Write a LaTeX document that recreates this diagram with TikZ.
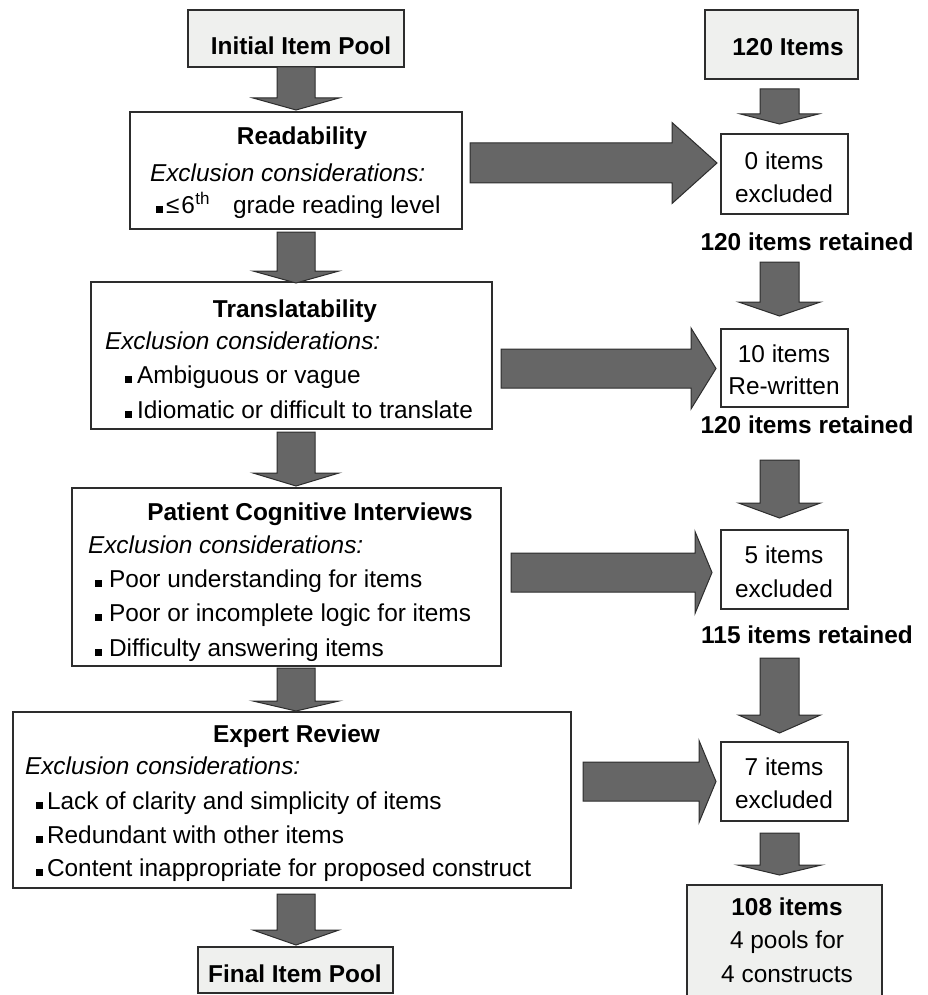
\documentclass[tikz,border=0pt]{standalone}
\usepackage{fontspec}
\setmainfont{Liberation Sans}
\usetikzlibrary{calc}
\definecolor{boxgray}{RGB}{239,240,238}
\definecolor{arrfill}{RGB}{102,102,102}
\definecolor{edge}{RGB}{45,45,45}
% vertical block arrow: start, tip, head length, shaft half width, head half width
\newcommand{\vblock}[5]{%
  \draw[blockarr] let \p1=#1, \p2=#2 in
    (\x2-#4pt,\y1) -- (\x2+#4pt,\y1) -- (\x2+#4pt,\y2+#3pt) -- (\x2+#5pt,\y2+#3pt)
    -- (\x2,\y2) -- (\x2-#5pt,\y2+#3pt) -- (\x2-#4pt,\y2+#3pt) -- cycle;}
% horizontal block arrow: start, tip, head length, shaft half width, head half width
\newcommand{\hblock}[5]{%
  \draw[blockarr] let \p1=#1, \p2=#2 in
    (\x1,\y2+#4pt) -- (\x2-#3pt,\y2+#4pt) -- (\x2-#3pt,\y2+#5pt) -- (\x2,\y2)
    -- (\x2-#3pt,\y2-#5pt) -- (\x2-#3pt,\y2-#4pt) -- (\x1,\y2-#4pt) -- cycle;}
\begin{document}
\begin{tikzpicture}[x=1pt,y=-1pt,
  box/.style={draw=edge, line width=1.1pt, fill=white, inner sep=0pt, outer sep=0pt, anchor=north west},
  graybox/.style={box, fill=boxgray},
  txt/.style={inner sep=0pt, outer sep=0pt, font=\fontsize{24.4pt}{29pt}\selectfont},
  ttl/.style={inner sep=0pt, outer sep=0pt, font=\fontsize{24.4pt}{29pt}\selectfont\bfseries},
  bul/.style={fill=black, draw=none, minimum size=6.8pt, inner sep=0pt, outer sep=0pt, anchor=south west},
  blockarr/.style={fill=arrfill, draw=edge, line width=1pt, line join=miter}]
\useasboundingbox (0,0) rectangle (927,995);
\clip (0,0) rectangle (927,995);

% ---------- boxes ----------
\node[graybox, minimum width=216pt, minimum height=57pt]  (init)  at (188,10)  {};
\node[box,     minimum width=332pt, minimum height=117pt] (read)  at (130,112) {};
\node[box,     minimum width=401pt, minimum height=147pt] (trans) at (91,282)  {};
\node[box,     minimum width=429pt, minimum height=178pt] (pat)   at (72,488)  {};
\node[box,     minimum width=558pt, minimum height=176pt] (expr)  at (13,712)  {};
\node[graybox, minimum width=195pt, minimum height=46pt]  (final) at (198,947) {};

\node[graybox, minimum width=153pt, minimum height=69pt]  (itm)   at (705,10)  {};
\node[box,     minimum width=127pt, minimum height=80pt]  (zero)  at (721,134) {};
\node[box,     minimum width=127pt, minimum height=78pt]  (ten)   at (721,329) {};
\node[box,     minimum width=127pt, minimum height=79pt]  (five)  at (721,530) {};
\node[box,     minimum width=127pt, minimum height=79pt]  (seven) at (721,742) {};
\node[graybox, minimum width=195pt, minimum height=125pt] (pools) at (687,885) {};

% ---------- arrow end points ----------
\coordinate (colL) at (296,0);
\coordinate (colR) at (779.5,0);
\coordinate (a1s) at (init.south -| colL);
\coordinate (a1t) at ($(read.north -| colL)+(0,-2)$);
\coordinate (a2s) at ($(read.south -| colL)+(0,3)$);
\coordinate (a2t) at ($(trans.north -| colL)+(0,1)$);
\coordinate (a3s) at ($(trans.south -| colL)+(0,3)$);
\coordinate (a3t) at ($(pat.north -| colL)+(0,-2)$);
\coordinate (a4s) at ($(pat.south -| colL)+(0,2)$);
\coordinate (a4t) at ($(expr.north -| colL)+(0,-1)$);
\coordinate (a5s) at ($(expr.south -| colL)+(0,6)$);
\coordinate (a5t) at ($(final.north -| colL)+(0,-2)$);

\coordinate (r1s) at ($(itm.south -| colR)+(0,10)$);
\coordinate (r1t) at ($(zero.north -| colR)+(0,-10)$);
\coordinate (r2s) at (779.5,262);
\coordinate (r2t) at ($(ten.north -| colR)+(0,-13)$);
\coordinate (r3s) at (779.5,460);
\coordinate (r3t) at ($(five.north -| colR)+(0,-12)$);
\coordinate (r4s) at (779.5,658);
\coordinate (r4t) at ($(seven.north -| colR)+(0,-9)$);
\coordinate (r5s) at ($(seven.south -| colR)+(0,12)$);
\coordinate (r5t) at ($(pools.north -| colR)+(0,-10)$);

\coordinate (h1s) at (470,163);   \coordinate (h1t) at ($(zero.west |- h1s)+(-4,0)$);
\coordinate (h2s) at (501,368.5); \coordinate (h2t) at ($(ten.west |- h2s)+(-5,0)$);
\coordinate (h3s) at (511,572.5); \coordinate (h3t) at ($(five.west |- h3s)+(-9,0)$);
\coordinate (h4s) at (583,781.5); \coordinate (h4t) at ($(seven.west |- h4s)+(-5,0)$);

% ---------- block arrows ----------
\vblock{(a1s)}{(a1t)}{12}{19}{43}
\vblock{(a2s)}{(a2t)}{12}{19}{43}
\vblock{(a3s)}{(a3t)}{13}{19}{43}
\vblock{(a4s)}{(a4t)}{10}{19}{43}
\vblock{(a5s)}{(a5t)}{15}{19}{43}

\vblock{(r1s)}{(r1t)}{10}{19.5}{39}
\vblock{(r2s)}{(r2t)}{14}{19.5}{41}
\vblock{(r3s)}{(r3t)}{15}{19.5}{41}
\vblock{(r4s)}{(r4t)}{18}{19.5}{41}
\vblock{(r5s)}{(r5t)}{10}{19.5}{42}

\hblock{(h1s)}{(h1t)}{45}{20}{40.5}
\hblock{(h2s)}{(h2t)}{25}{19.5}{40.5}
\hblock{(h3s)}{(h3t)}{17}{19.5}{41}
\hblock{(h4s)}{(h4t)}{17}{19.5}{41}

% ---------- left column texts ----------
\node[ttl, anchor=base] (initT) at (301,55) {Initial Item Pool};

\node[ttl, anchor=base] (readT) at (302,145) {Readability};
\node[txt, anchor=base west] (readE) at (150,182) {\itshape Exclusion considerations:};
\node[bul] (readB) at (156,212.5) {};
\node[txt, anchor=base west] (readL1) at (166,213) {≤\kern2pt 6\kern0.5pt\raisebox{8.5pt}{\fontsize{17pt}{17pt}\selectfont th}};
\node[txt, anchor=base west] (readL2) at (233,213) {grade reading level};

\node[ttl, anchor=base] (trT) at (295,317) {Translatability};
\node[txt, anchor=base west] (trE) at (105,349) {\itshape Exclusion considerations:};
\node[bul] (trB1) at (125,382.5) {};
\node[txt, anchor=base west] (trL1) at (137,383) {Ambiguous or vague};
\node[bul] (trB2) at (125,417.5) {};
\node[txt, anchor=base west] (trL2) at (137,418) {Idiomatic or difficult to translate};

\node[ttl, anchor=base] (paT) at (310,520) {Patient Cognitive Interviews};
\node[txt, anchor=base west] (paE) at (88,553) {\itshape Exclusion considerations:};
\node[bul] (paB1) at (95,586.5) {};
\node[txt, anchor=base west] (paL1) at (109,587) {Poor understanding for items};
\node[bul] (paB2) at (95,620.5) {};
\node[txt, anchor=base west] (paL2) at (109,621) {Poor or incomplete logic for items};
\node[bul] (paB3) at (95,655.5) {};
\node[txt, anchor=base west] (paL3) at (109,656) {Difficulty answering items};

\node[ttl, anchor=base] (exT) at (296.5,742) {Expert Review};
\node[txt, anchor=base west] (exE) at (25,774) {\itshape Exclusion considerations:};
\node[bul] (exB1) at (36,808.5) {};
\node[txt, anchor=base west] (exL1) at (47,809) {Lack of clarity and simplicity of items};
\node[bul] (exB2) at (36,842.5) {};
\node[txt, anchor=base west] (exL2) at (47,843) {Redundant with other items};
\node[bul] (exB3) at (36,875.5) {};
\node[txt, anchor=base west] (exL3) at (47,876) {Content inappropriate for proposed construct};

\node[ttl, anchor=base] (finalT) at (295,982) {Final Item Pool};

% ---------- right column texts ----------
\node[ttl, anchor=base] (itmT) at (788,56) {120 Items};
\node[txt, anchor=base] (zeroA) at (784,170) {0 items};
\node[txt, anchor=base] (zeroB) at (784,203) {excluded};
\node[ttl, anchor=base] (ret1) at (807,250) {120 items retained};
\node[txt, anchor=base] (tenA) at (784,362) {10 items};
\node[txt, anchor=base] (tenB) at (784,394) {Re-written};
\node[ttl, anchor=base] (ret2) at (807,433) {120 items retained};
\node[txt, anchor=base] (fiveA) at (784,563) {5 items};
\node[txt, anchor=base] (fiveB) at (784,597) {excluded};
\node[ttl, anchor=base] (ret3) at (807,643) {115 items retained};
\node[txt, anchor=base] (sevenA) at (784,775) {7 items};
\node[txt, anchor=base] (sevenB) at (784,808) {excluded};
\node[ttl, anchor=base] (poolsA) at (787,915) {108 items};
\node[txt, anchor=base] (poolsB) at (787,948) {4 pools for};
\node[txt, anchor=base] (poolsC) at (787,982) {4 constructs};
\end{tikzpicture}
\end{document}
